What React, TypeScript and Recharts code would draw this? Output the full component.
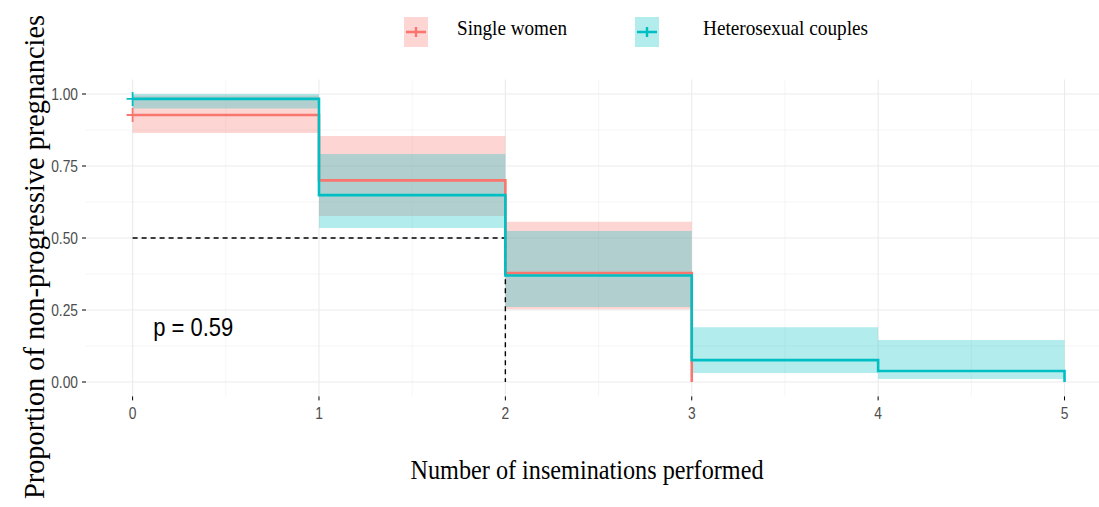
import { ComposedChart, Area, Line, XAxis, YAxis, CartesianGrid, ReferenceDot } from "recharts";

const RED = "#F8766D";
const TEAL = "#00BFC4";
const SANS = "'Liberation Sans', Arial, sans-serif";
const SERIF = "'Liberation Serif', 'Times New Roman', serif";
const STRETCH = 1.15; // the source image is a bit taller than wide

// axis ticks (major + minor grid)
const xTicks = [0, 1, 2, 3, 4, 5];
const yTicks = [0, 0.25, 0.5, 0.75, 1];
const xMinor = [0.5, 1.5, 2.5, 3.5, 4.5];
const yMinor = [0.125, 0.375, 0.625, 0.875];

// Single women: KM estimate and 95% band
const singleTime = [0, 1, 2, 3];
const singleSurv = [0.927, 0.7, 0.378, 0];
const singleLower = [0.865, 0.576, 0.253, 0.253];
const singleUpper = [0.995, 0.854, 0.556, 0.556];

// Heterosexual couples
const coupleTime = [0, 1, 2, 3, 4, 5];
const coupleSurv = [0.983, 0.649, 0.37, 0.076, 0.038, 0];
const coupleLower = [0.95, 0.535, 0.26, 0.031, 0.01, 0.01];
const coupleUpper = [1.0, 0.792, 0.524, 0.19, 0.146, 0.146];

// median line
const medianX = [0, 2, 2];
const medianY = [0.5, 0.5, 0];

const pValue = "p = 0.59";
const pAt = { x: 0.325, y: 0.19 };

const legendItems = [
  { name: "Single women", color: RED },
  { name: "Heterosexual couples", color: TEAL },
];

const build = (t: number[], s: number[], lo: number[], hi: number[]) =>
  t.map((x, i) => ({ x, surv: s[i], band: [lo[i], hi[i]] }));

const singleData = build(singleTime, singleSurv, singleLower, singleUpper);
const coupleData = build(coupleTime, coupleSurv, coupleLower, coupleUpper);
const medianData = medianX.map((x, i) => ({ x, y: medianY[i] }));

const censor = (color: string) => (p: any) =>
  p.index === 0 ? (
    <path key={p.key} d={`M${p.cx - 6},${p.cy}h12M${p.cx},${p.cy - 7}v14`} stroke={color} strokeWidth={1.8} fill="none" />
  ) : (
    <g key={p.key} />
  );

const XTick = (p: any) => (
  <g transform={`translate(${p.x},${p.y}) scale(1,${STRETCH})`}>
    <text x={0} y={12.5} textAnchor="middle" fontSize={13.8} fontFamily={SANS} fill="#4D4D4D">
      {p.payload.value}
    </text>
  </g>
);

const YTick = (p: any) => (
  <g transform={`translate(${p.x},${p.y}) scale(1,${STRETCH})`}>
    <text x={0} y={0} dy="0.36em" textAnchor="end" fontSize={13.8} fontFamily={SANS} fill="#4D4D4D">
      {Number(p.payload.value).toFixed(2)}
    </text>
  </g>
);

const PLabel = (p: any) => {
  const vb = p.viewBox || {};
  const cx = vb.cx ?? vb.x ?? 0;
  const cy = vb.cy ?? vb.y ?? 0;
  return (
    <g transform={`translate(${cx},${cy}) scale(1,${STRETCH})`}>
      <text x={0} y={0} dy="0.36em" textAnchor="middle" fontSize={22} fontFamily={SANS} fill="#000">
        {pValue}
      </text>
    </g>
  );
};

export default function App() {
  return (
    <div style={{ position: "absolute", left: 0, top: 0, width: 1099, height: 507, background: "#fff" }}>
      <ComposedChart width={1099} height={507} margin={{ top: 79.6, right: 0, bottom: 80.6, left: 0 }}>
        <CartesianGrid stroke="#F2F2F2" strokeWidth={0.8} horizontalValues={yMinor} verticalValues={xMinor} />
        <CartesianGrid stroke="#EBEBEB" strokeWidth={1.1} horizontalValues={yTicks} verticalValues={xTicks} />
        <XAxis
          type="number"
          dataKey="x"
          domain={[-0.25, 5.185]}
          ticks={xTicks}
          allowDataOverflow
          interval={0}
          axisLine={false}
          tickLine={{ stroke: "#000" }}
          tickSize={4}
          tickMargin={4}
          height={30}
          tick={XTick}
        />
        <YAxis
          type="number"
          domain={[-0.05, 1.05]}
          ticks={yTicks}
          allowDataOverflow
          axisLine={false}
          tickLine={{ stroke: "#000" }}
          tickSize={4}
          tickMargin={4}
          width={86}
          tick={YTick}
        />
        <Area data={singleData} dataKey="band" type="stepAfter" fill={RED} fillOpacity={0.3} stroke="none" isAnimationActive={false} />
        <Line data={singleData} dataKey="surv" type="stepAfter" stroke={RED} strokeWidth={2.6} dot={censor(RED)} activeDot={false} isAnimationActive={false} />
        <Area data={coupleData} dataKey="band" type="stepAfter" fill={TEAL} fillOpacity={0.3} stroke="none" isAnimationActive={false} />
        <Line data={medianData} dataKey="y" type="linear" stroke="#000" strokeWidth={1.4} strokeDasharray="5 4" dot={false} activeDot={false} isAnimationActive={false} />
        <Line data={coupleData} dataKey="surv" type="stepAfter" stroke={TEAL} strokeWidth={2.6} dot={censor(TEAL)} activeDot={false} isAnimationActive={false} />
        <ReferenceDot x={pAt.x} y={pAt.y} r={0} fill="none" stroke="none" label={<PLabel />} />
      </ComposedChart>

      <svg width={1099} height={507} style={{ position: "absolute", left: 0, top: 0, pointerEvents: "none" }}>
        <text
          x={587}
          y={479}
          textAnchor="middle"
          fontFamily={SERIF}
          fontSize={27}
          textLength={353}
          lengthAdjust="spacingAndGlyphs"
          fill="#000"
        >
          Number of inseminations performed
        </text>
        <text
          transform="translate(44,257) rotate(-90)"
          textAnchor="middle"
          fontFamily={SERIF}
          fontSize={29}
          textLength={484}
          lengthAdjust="spacingAndGlyphs"
          fill="#000"
        >
          Proportion of non-progressive pregnancies
        </text>
        {legendItems.map((it, i) => {
          const kx = i === 0 ? 404 : 635;
          const tx = i === 0 ? 457 : 703;
          const tw = i === 0 ? 110 : 165;
          return (
            <g key={it.name}>
              <rect x={kx} y={17} width={24} height={30} fill={it.color} fillOpacity={0.3} />
              <path d={`M${kx + 2},32h20M${kx + 12},27v10`} stroke={it.color} strokeWidth={2.4} />
              <text
                x={tx}
                y={35}
                fontFamily={SERIF}
                fontSize={21}
                textLength={tw}
                lengthAdjust="spacingAndGlyphs"
                fill="#000"
              >
                {it.name}
              </text>
            </g>
          );
        })}
      </svg>
    </div>
  );
}
